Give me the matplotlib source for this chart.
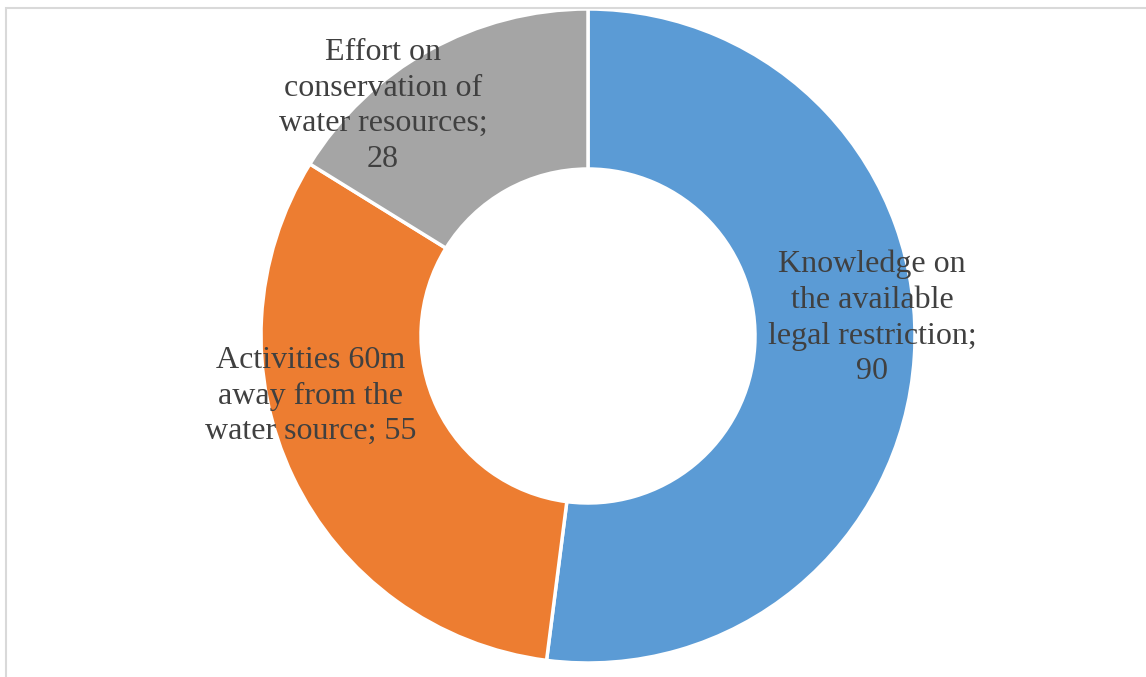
import matplotlib.pyplot as plt
from matplotlib.patches import Rectangle

# survey answers
categories = [
    "Knowledge on\nthe available\nlegal restriction;\n",
    "Activities 60m\naway from the\nwater source; ",
    "Effort on\nconservation of\nwater resources;\n",
]
values = [90, 55, 28]
colors = ["#5B9BD5", "#ED7D31", "#A5A5A5"]

W, H = 1146, 677
fig = plt.figure(figsize=(W / 100, H / 100), dpi=100)
ax = fig.add_axes([0, 0, 1, 1])

# light grey chart border
fig.patches.append(Rectangle((6 / W, -0.1), 1.2, 1 - 8 / H + 0.1, transform=fig.transFigure,
                             fill=False, edgecolor="#D9D9D9", linewidth=1.5))

# axes in pixel units, y measured upward
wedges, _ = ax.pie(values, colors=colors, startangle=90, counterclock=False,
                   center=(588, H - 336), radius=327, frame=True,
                   wedgeprops=dict(width=160, edgecolor="white", linewidth=2.5))
ax.set_xlim(0, W)
ax.set_ylim(0, H)
ax.set_aspect("equal")
ax.axis("off")

label_pos = [(872, 318), (311, 396), (383, 106)]
for name, val, (x, y) in zip(categories, values, label_pos):
    ax.text(x, H - y, f"{name}{val}", ha="center", va="center", fontsize=23,
            family="Liberation Serif", color="#404040", linespacing=1.3)

plt.savefig("out.png", dpi=100)
plt.close()
